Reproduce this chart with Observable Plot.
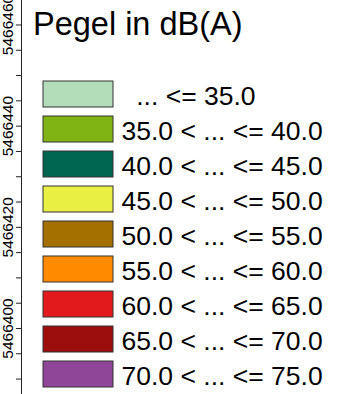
<!DOCTYPE html>
<html>
<head>
<meta charset="utf-8">
<script src="https://cdn.jsdelivr.net/npm/d3@7"></script>
<script src="https://cdn.jsdelivr.net/npm/@observablehq/plot@0.6"></script>
<style>
  html, body { margin: 0; padding: 0; background: #fff; }
  #wrap { position: relative; width: 361px; height: 394px; overflow: hidden; }
  #wrap svg { position: absolute; left: 0; top: 0; }
</style>
</head>
<body>
<div id="wrap"></div>
<script>
// ---- data ----
const yDomain = [5466386.95, 5466464.84];           // visible northing range
const yTicks = [5466390, 5466395, 5466400, 5466405, 5466410, 5466415, 5466420,
                5466425, 5466430, 5466435, 5466440, 5466445, 5466450, 5466455, 5466460];
const yLabels = [5466400, 5466420, 5466440, 5466460];
const legendTitle = "Pegel in dB(A)";
const classes = [
  "\u00a0\u00a0... <= 35.0",
  "35.0 < ... <= 40.0",
  "40.0 < ... <= 45.0",
  "45.0 < ... <= 50.0",
  "50.0 < ... <= 55.0",
  "55.0 < ... <= 60.0",
  "60.0 < ... <= 65.0",
  "65.0 < ... <= 70.0",
  "70.0 < ... <= 75.0"
];
const classColors = ["#b3dcb9", "#80b414", "#006652", "#e9f043", "#a47000",
                     "#ff8a00", "#e31a1c", "#9c0d0d", "#8f4698"];

const font = "'Liberation Sans', Arial, Helvetica, sans-serif";
const wrap = document.getElementById("wrap");

// ---- axis plot ----
const axisPlot = Plot.plot({
  width: 361, height: 394,
  marginLeft: 21, marginRight: 0, marginTop: 0, marginBottom: 0,
  style: {fontFamily: font, background: "white", overflow: "visible"},
  x: {domain: [0, 1], axis: null},
  y: {domain: yDomain, axis: null},
  marks: [
    Plot.ruleX([0], {stroke: "#222", strokeWidth: 1}),
    Plot.axisY(yTicks, {anchor: "left", tickSize: 5, tickFormat: () => "", stroke: "#222", label: null}),
    Plot.text(yLabels, {
      y: d => d, frameAnchor: "left", dx: -13.5, rotate: -90,
      text: d => String(d), fontSize: 15.5, textAnchor: "middle", lineAnchor: "middle", fill: "#000"
    })
  ]
});
wrap.appendChild(axisPlot);

// ---- legend plot ----
const legendPlot = Plot.plot({
  width: 361, height: 394,
  margin: 0,
  style: {fontFamily: font, background: "transparent", overflow: "visible"},
  x: {domain: [0, 1], range: [43, 113], axis: null},
  y: {type: "band", domain: classes, range: [70.8, 396.8], padding: 0.26, axis: null},
  color: {domain: classes, range: classColors},
  marks: [
    Plot.barX(classes, {x1: 0, x2: 1, y: d => d, fill: d => d, stroke: "#333", strokeWidth: 1}),
    Plot.text(classes, {
      x: 1, y: d => d, dx: 8, dy: 2, text: d => d, textAnchor: "start",
      lineAnchor: "middle", fontSize: 26.5, fill: "#000"
    }),
    Plot.text([legendTitle], {
      frameAnchor: "top-left", dx: 32.5, dy: 11.7, text: d => d,
      textAnchor: "start", lineAnchor: "top", fontSize: 32.5, fill: "#000"
    })
  ]
});
wrap.appendChild(legendPlot);
</script>
</body>
</html>
